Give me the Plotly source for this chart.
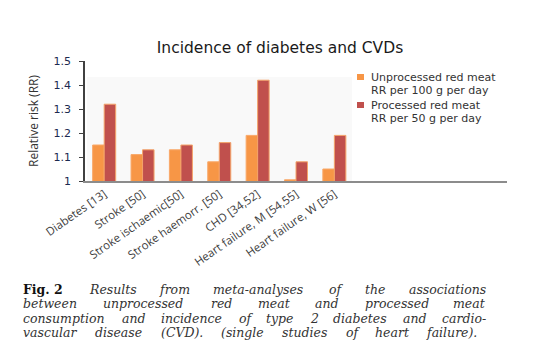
import plotly.graph_objects as go

categories = ["Diabetes [13]", "Stroke [50]", "Stroke ischaemic[50]", "Stroke haemorr. [50]",
              "CHD [34,52]", "Heart failure, M [54,55]", "Heart failure, W [56]"]
unprocessed = [1.15, 1.11, 1.13, 1.08, 1.19, 1.005, 1.05]
processed = [1.32, 1.13, 1.15, 1.16, 1.42, 1.08, 1.19]
series_names = [["Unprocessed red meat", "RR per 100 g per day"],
                ["Processed red meat", "RR per 50 g per day"]]
series_colors = ["#F79646", "#C0504D"]
y_ticks = [1, 1.1, 1.2, 1.3, 1.4, 1.5]
y_tick_labels = ["1", "1.1", "1.2", "1.3", "1.4", "1.5"]
n_slots = 11  # category axis leaves empty room at the right

caption_bold = "Fig. 2"
caption_lines = [
    "Results from meta-analyses of the associations",
    "between unprocessed red meat and processed meat",
    "consumption and incidence of type 2 diabetes and cardio-",
    "vascular disease (CVD). (single studies of heart failure).",
]

# ---- layout (screen pixel coordinates of the reference) ----
W, H = 547, 363
OFF = 8                      # page body margin offset
AX_L, AX_R, AX_T, AX_B = 85, 507, 61, 181
L = AX_L - OFF
R = W - (AX_R - OFF)
T = AX_T - OFF
B = H - (AX_B - OFF)
pw, ph = AX_R - AX_L, AX_B - AX_T


def sx(x):
    return (x - AX_L) / pw


def sy(y):
    return (AX_B - y) / ph


xs = list(range(len(categories)))

fig = go.Figure()
fig.add_trace(go.Bar(x=xs, y=unprocessed, name=series_names[0][0], showlegend=False,
                     marker=dict(color=series_colors[0], line=dict(color="#F9A868", width=1))))
fig.add_trace(go.Bar(x=xs, y=processed, name=series_names[1][0], showlegend=False,
                     marker=dict(color=series_colors[1], line=dict(color="#F4A46A", width=1))))

fig.update_layout(
    width=W, height=H,
    margin=dict(l=L, r=R, t=T, b=B, autoexpand=False),
    paper_bgcolor="white", plot_bgcolor="rgba(0,0,0,0)",
    barmode="group", bargap=0.4, bargroupgap=0,
    font=dict(family="Open Sans", color="#404040"),
    title=dict(text="Incidence of diabetes and CVDs", x=(280 - OFF) / W, xanchor="center",
               y=1 - (48 - OFF) / H, yanchor="middle",
               font=dict(family="DejaVu Sans", size=15.5, color="#1a1a1a")),
    xaxis=dict(range=[-0.5, n_slots - 0.5], tickvals=xs, ticktext=categories,
               tickangle=-35, showgrid=False, zeroline=False, showline=True,
               linecolor="#8c8c8c", linewidth=2, ticks="", automargin=False,
               tickfont=dict(family="Open Sans", size=11.5, color="#404040")),
    yaxis=dict(range=[1, 1.5], tickvals=y_ticks, ticktext=y_tick_labels,
               showgrid=False, zeroline=False, showline=True, linecolor="#404040",
               linewidth=1.5, ticks="outside", ticklen=4, tickcolor="#404040",
               ticklabelstandoff=6, automargin=False,
               title=dict(text="Relative risk (RR)", standoff=12,
                          font=dict(family="Open Sans", size=12, color="#333")),
               tickfont=dict(family="DejaVu Sans", size=11, color="#1c2a50")),
    showlegend=False,
)

# faint plot-area shading
fig.add_shape(type="rect", xref="paper", yref="paper", x0=sx(87), x1=sx(352),
              y0=0, y1=sy(77), fillcolor="#f9f9f9", line=dict(width=0), layer="below")

# custom legend
leg_y = [77, 105]
for i, (names, col) in enumerate(zip(series_names, series_colors)):
    yc = leg_y[i]
    fig.add_shape(type="rect", xref="paper", yref="paper",
                  x0=sx(357), x1=sx(364), y0=sy(yc + 3), y1=sy(yc - 3),
                  fillcolor=col, line=dict(width=0))
    for j, txt in enumerate(names):
        fig.add_annotation(text=txt, xref="paper", yref="paper", x=sx(369),
                           y=sy(yc + 13 * j), xanchor="left", yanchor="middle",
                           showarrow=False,
                           font=dict(family="DejaVu Sans", size=11, color="#333"))

# ---- caption, word by word so that lines can be justified ----
EM = {  # approximate DejaVu Serif advance widths (em)
    'a': .596, 'b': .64, 'c': .56, 'd': .64, 'e': .592, 'f': .37, 'g': .64, 'h': .644,
    'i': .32, 'j': .31, 'k': .606, 'l': .32, 'm': .948, 'n': .644, 'o': .602, 'p': .64,
    'q': .64, 'r': .478, 's': .513, 't': .402, 'u': .644, 'v': .565, 'w': .856, 'x': .564,
    'y': .565, 'z': .527, ' ': .318, '(': .39, ')': .39, '.': .318, '-': .338, ',': .318,
    'C': .733, 'V': .729, 'D': .77, 'R': .73, 'F': .72, '2': .636,
}


def text_width(s, size, bold=False):
    w = sum(EM.get(c, .6) for c in s) * size * 1.025
    return w * (1.12 if bold else 1.0)


CAP_FS = 12.5
cap_y = [289, 303.6, 318.2, 332.8]
cap_left = 22
cap_right = [487, 487, 487, 478]
for li, (line, yy) in enumerate(zip(caption_lines, cap_y)):
    words = [(w, False) for w in line.split(" ")]
    if li == 0:
        words = [(caption_bold, True)] + words
    widths = [text_width(w, CAP_FS, b) for w, b in words]
    gap = (cap_right[li] - cap_left - sum(widths)) / (len(words) - 1)
    x = cap_left
    for k, ((w, b), wd) in enumerate(zip(words, widths)):
        last = k == len(words) - 1
        txt = f"<b>{w}</b>" if b else f"<i>{w}</i>"
        fig.add_annotation(text=txt, xref="paper", yref="paper",
                           x=sx(cap_right[li] if last else x), y=sy(yy),
                           xanchor="right" if last else "left", yanchor="middle",
                           showarrow=False, borderpad=0,
                           font=dict(family="DejaVu Serif", size=CAP_FS,
                                     color="#111" if b else "#333"))
        x += wd + gap

fig.write_html("out.html")
